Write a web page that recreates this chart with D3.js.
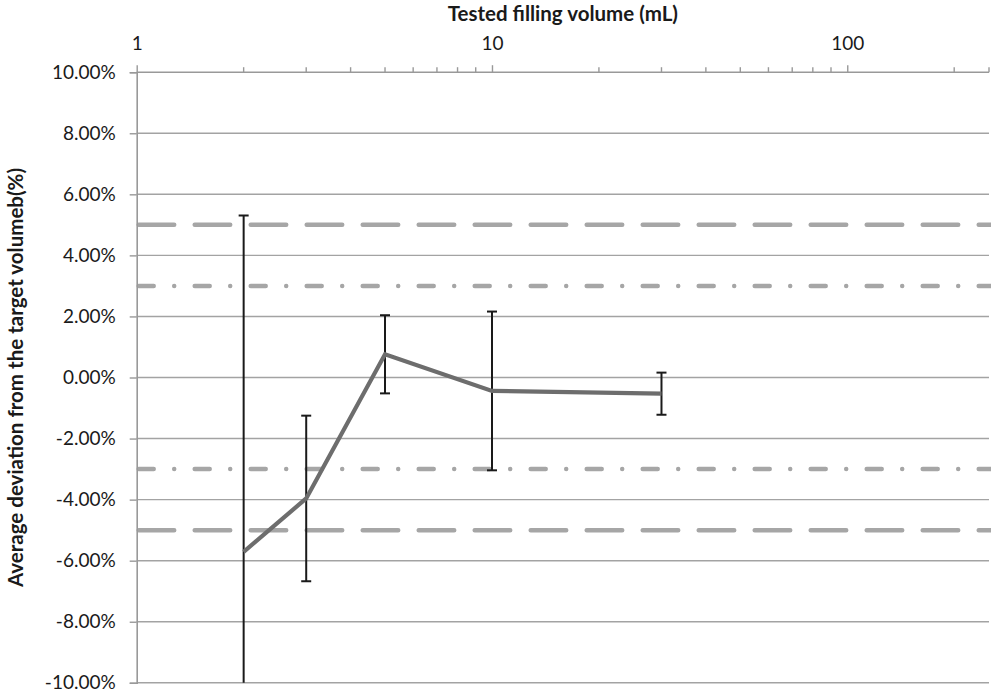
<!DOCTYPE html>
<html>
<head>
<meta charset="utf-8">
<script src="https://cdn.jsdelivr.net/npm/d3@7"></script>
<style>
  html, body { margin: 0; padding: 0; background: #fff; }
  svg { display: block; }
  text { font-family: Lato, "Open Sans", sans-serif; fill: #1a1a1a; }
</style>
</head>
<body>
<svg id="chart" width="991" height="691"></svg>
<script>
// ---- data ----
const volumes = [2, 3, 5, 10, 30];                 // tested filling volume (mL)
const meanDev = [-5.71, -3.96, 0.76, -0.44, -0.53]; // average deviation (%)
const errDev  = [11.02, 2.71, 1.28, 2.60, 0.69];    // error bar half-length (%)
const yTicks = [-10, -8, -6, -4, -2, 0, 2, 4, 6, 8, 10];
const xMajorTicks = [1, 10, 100];
const xMinorTicks = [2, 3, 4, 5, 6, 7, 8, 9, 20, 30, 40, 50, 60, 70, 80, 90, 200];
const limitDashed = [5, -5];
const limitDashDot = [3, -3];

// ---- layout ----
const svg = d3.select("#chart");
const pL = 136.7, pR = 989, pT = 72.2, pB = 682.8;

const x = d3.scaleLog().domain([1, 250.6]).range([pL, pR]);
const y = d3.scaleLinear().domain([-10, 10]).range([pB, pT]);

const gridColor = "#a3a3a3";

// gridlines
svg.append("g").selectAll("line").data(yTicks.filter(d => d !== 10)).join("line")
  .attr("x1", pL).attr("x2", pR)
  .attr("y1", d => y(d)).attr("y2", d => y(d))
  .attr("stroke", gridColor).attr("stroke-width", 1.4);

// limit lines
svg.append("g").selectAll("line").data(limitDashed).join("line")
  .attr("x1", pL + 2).attr("x2", 993)
  .attr("y1", d => y(d)).attr("y2", d => y(d))
  .attr("stroke", "#a6a6a6").attr("stroke-width", 4.5)
  .attr("stroke-linecap", "round")
  .attr("stroke-dasharray", "35.5 20.5");

svg.append("g").selectAll("line").data(limitDashDot).join("line")
  .attr("x1", pL + 2).attr("x2", 993)
  .attr("y1", d => y(d)).attr("y2", d => y(d))
  .attr("stroke", "#a6a6a6").attr("stroke-width", 4.5)
  .attr("stroke-linecap", "round")
  .attr("stroke-dasharray", "15 20.5 0 20.5");

// y axis
const yAxis = d3.axisLeft(y).tickValues(yTicks).tickSize(7).tickPadding(14)
  .tickFormat(d => d.toFixed(2) + "%");
const gy = svg.append("g").attr("transform", `translate(${pL},0)`).call(yAxis);
gy.select(".domain").attr("stroke", "#999").attr("stroke-width", 1.6);
gy.selectAll(".tick line").attr("stroke", "#999").attr("stroke-width", 1.4);
gy.selectAll(".tick text").style("font-size", "19px").attr("fill", "#1a1a1a")
  .style("font-family", "Lato, sans-serif");

// x axis (top)
const xAxis = d3.axisTop(x).tickValues(xMajorTicks).tickSize(7).tickPadding(15)
  .tickFormat(d3.format("d"));
const gx = svg.append("g").attr("transform", `translate(0,${pT})`).call(xAxis);
gx.select(".domain").attr("stroke", "#999").attr("stroke-width", 1.6)
  .attr("d", `M${pL},0H${pR}`);
gx.selectAll(".tick line").attr("stroke", "#999").attr("stroke-width", 1.4);
gx.selectAll(".tick text").style("font-size", "19px").attr("fill", "#1a1a1a")
  .style("font-family", "Lato, sans-serif");
svg.append("g").selectAll("line").data(xMinorTicks).join("line")
  .attr("x1", d => x(d)).attr("x2", d => x(d))
  .attr("y1", pT - 5).attr("y2", pT)
  .attr("stroke", "#999").attr("stroke-width", 1.4);
svg.append("line").attr("x1", pR).attr("x2", pR).attr("y1", pT - 5).attr("y2", pT)
  .attr("stroke", "#999").attr("stroke-width", 1.4);

// clip for error bars
svg.append("clipPath").attr("id", "plotclip").append("rect")
  .attr("x", pL - 10).attr("y", pT).attr("width", pR - pL + 20).attr("height", pB - pT);

const pts = volumes.map((v, i) => ({ v, m: meanDev[i], e: errDev[i] }));

// error bars
const eb = svg.append("g").attr("clip-path", "url(#plotclip)");
eb.selectAll("line.bar").data(pts).join("line").attr("class", "bar")
  .attr("x1", d => x(d.v)).attr("x2", d => x(d.v))
  .attr("y1", d => y(d.m + d.e)).attr("y2", d => y(d.m - d.e))
  .attr("stroke", "#1a1a1a").attr("stroke-width", 2);
eb.selectAll("line.capT").data(pts).join("line").attr("class", "capT")
  .attr("x1", d => x(d.v) - 5).attr("x2", d => x(d.v) + 5)
  .attr("y1", d => y(d.m + d.e)).attr("y2", d => y(d.m + d.e))
  .attr("stroke", "#1a1a1a").attr("stroke-width", 2);
eb.selectAll("line.capB").data(pts).join("line").attr("class", "capB")
  .attr("x1", d => x(d.v) - 5).attr("x2", d => x(d.v) + 5)
  .attr("y1", d => y(d.m - d.e)).attr("y2", d => y(d.m - d.e))
  .attr("stroke", "#1a1a1a").attr("stroke-width", 2);

// main line
svg.append("path").datum(pts)
  .attr("d", d3.line().x(d => x(d.v)).y(d => y(d.m)))
  .attr("fill", "none").attr("stroke", "#6d6d6d").attr("stroke-width", 4.2)
  .attr("stroke-linejoin", "miter");

// titles
svg.append("text").attr("x", (pL + pR) / 2).attr("y", 21)
  .attr("text-anchor", "middle").style("font-size", "20.5px").style("font-weight", "bold")
  .text("Tested filling volume (mL)");
svg.append("text")
  .attr("transform", `translate(23,${(pT + pB) / 2}) rotate(-90)`)
  .attr("text-anchor", "middle").style("font-size", "20.5px").style("font-weight", "bold")
  .text("Average deviation from the target volumeb(%)");
</script>
</body>
</html>
